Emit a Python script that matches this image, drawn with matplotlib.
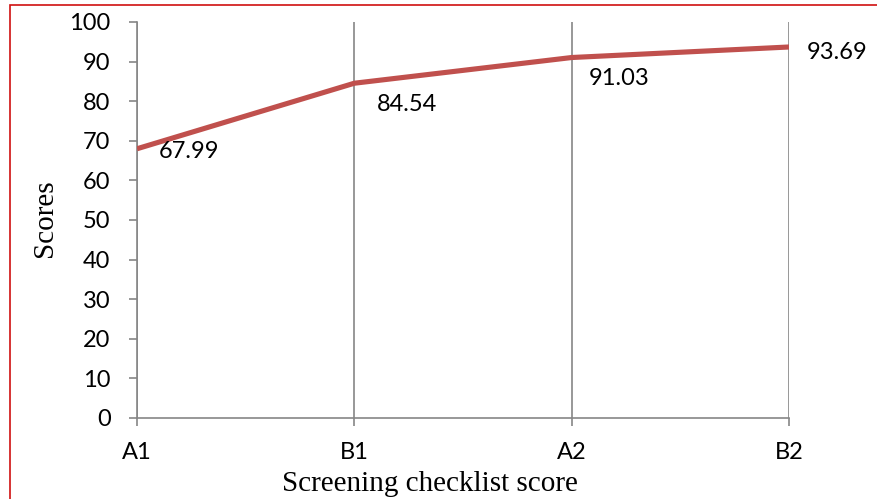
import matplotlib
matplotlib.use('Agg')
import matplotlib.pyplot as plt
from matplotlib.patches import Rectangle

# checklist levels and their mean scores
levels = ["A1", "B1", "A2", "B2"]
scores = [67.99, 84.54, 91.03, 93.69]
yticks = list(range(0, 101, 10))

# label offsets in points (right, down) from each point
label_dx = [16, 16, 12, 13]
label_dy = [-2, -15, -15, -4]

gray = "#868686"
line_red = "#C0504D"

fig = plt.figure(figsize=(8.77, 4.99), dpi=100)
ax = fig.add_axes([137/877, 1 - 418/499, (789 - 137)/877, (418 - 22)/499])

x = list(range(len(levels)))
ax.plot(x, scores, color=line_red, linewidth=3.7, solid_capstyle="butt", zorder=3)

for i, v in enumerate(scores):
    ax.annotate(f"{v:.2f}", (x[i], v), xytext=(label_dx[i], label_dy[i]),
                textcoords="offset points", ha="left", va="center",
                fontsize=17, family="Lato", color="black")

ax.set_xlim(0, len(levels) - 1)
ax.set_ylim(0, 100)
ax.set_xticks(x)
ax.set_xticklabels(levels, family="Lato", fontsize=17)
ax.set_yticks(yticks)
ax.set_yticklabels([str(t) for t in yticks], family="Lato", fontsize=17)

ax.grid(axis="x", color=gray, linewidth=1.2)
ax.set_axisbelow(True)

for side in ["top", "right"]:
    ax.spines[side].set_visible(False)
for side in ["left", "bottom"]:
    ax.spines[side].set_color(gray)
    ax.spines[side].set_linewidth(1.2)

ax.tick_params(axis="y", direction="out", length=6, width=1.2, color=gray, pad=13)
ax.tick_params(axis="x", direction="out", length=6, width=1.2, color=gray, pad=11)

fig.text(45/877, 1 - 218/499, "Scores", rotation=90, ha="center", va="center",
         family="Liberation Serif", fontsize=21)
fig.text(430/877, 1 - 484/499, "Screening checklist score", ha="center", va="center",
         family="Liberation Serif", fontsize=21)

# red frame around the figure
fig.patches.append(Rectangle((10/877, -0.1), 1.2, 1 - 5/499 + 0.1,
                             transform=fig.transFigure, fill=False,
                             edgecolor="#D01010", linewidth=1.2))

fig.savefig("out.png", dpi=100)
